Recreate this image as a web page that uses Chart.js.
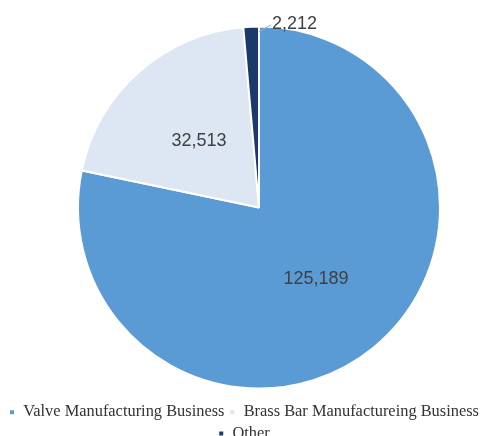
<!DOCTYPE html>
<html>
<head>
<meta charset="utf-8">
<script src="https://cdn.jsdelivr.net/npm/chart.js@4"></script>
<style>
  html, body { margin: 0; padding: 0; background: #fff; }
  #wrap { width: 488px; height: 436px; position: relative; }
</style>
</head>
<body>
<div id="wrap"><canvas id="pie-chart" width="488" height="436"></canvas></div>
<script>
const categories = ['Valve Manufacturing Business', 'Brass Bar Manufactureing Business', 'Other'];
const values = [125189, 32513, 2212];
const sliceColors = ['#5b9bd5', '#dde7f3', '#1a3a6b'];

// value labels: inside for the big slices, leader line for the small one
const valueLabels = {
  id: 'valueLabels',
  afterDatasetsDraw(chart) {
    const cx = chart.ctx;
    const arcs = chart.getDatasetMeta(0).data;
    const total = values.reduce((a, b) => a + b, 0);
    cx.save();
    cx.font = '18px "Liberation Sans", Arial, sans-serif';
    cx.fillStyle = '#404040';
    cx.textBaseline = 'middle';
    arcs.forEach((arc, i) => {
      const txt = values[i].toLocaleString('en-US');
      const mid = (arc.startAngle + arc.endAngle) / 2;
      if (values[i] / total > 0.05) {
        const r = arc.outerRadius * 0.5;
        cx.textAlign = 'center';
        cx.fillText(txt, arc.x + Math.cos(mid) * r, arc.y + Math.sin(mid) * r + 1);
      } else {
        const sx = arc.x + Math.cos(arc.endAngle) * arc.outerRadius * 0.97;
        const sy = arc.y + Math.sin(arc.endAngle) * arc.outerRadius * 0.97;
        cx.strokeStyle = '#a6a6a6';
        cx.lineWidth = 1;
        cx.beginPath();
        cx.moveTo(sx, sy);
        cx.lineTo(sx + 12, sy - 7);
        cx.stroke();
        cx.textAlign = 'left';
        cx.fillText(txt, sx + 13, sy - 8);
      }
    });
    cx.restore();
  }
};

// nudge the pie right of the canvas centre, as in the source
const shiftPie = {
  id: 'shiftPie',
  afterLayout(chart) {
    chart.chartArea.left += 30;
    chart.chartArea.width -= 30;
  }
};

new Chart(document.getElementById('pie-chart').getContext('2d'), {
  type: 'pie',
  data: {
    labels: categories,
    datasets: [{
      data: values,
      backgroundColor: sliceColors,
      borderColor: '#ffffff',
      borderWidth: 2,
      radius: 181
    }]
  },
  options: {
    responsive: false,
    animation: false,
    layout: { padding: { top: 16, left: 0, right: 0, bottom: 0 } },
    plugins: {
      tooltip: { enabled: false },
      legend: {
        position: 'bottom',
        maxHeight: 37,
        labels: {
          boxWidth: 6,
          boxHeight: 6,
          padding: 5,
          color: '#333333',
          font: { family: '"Liberation Serif", "Times New Roman", serif', size: 16.4 }
        }
      }
    }
  },
  plugins: [shiftPie, valueLabels]
});
</script>
</body>
</html>
